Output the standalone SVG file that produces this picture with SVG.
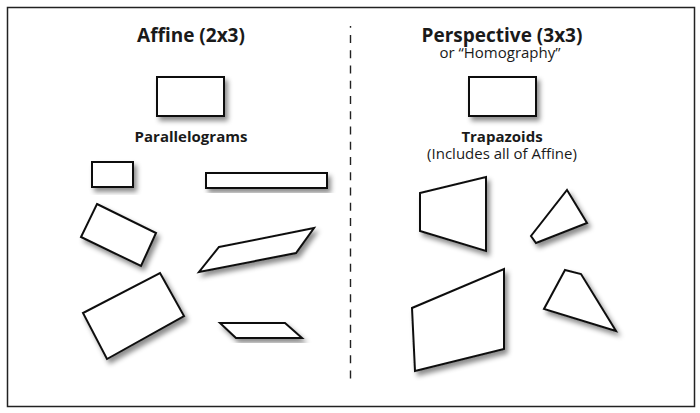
<svg xmlns="http://www.w3.org/2000/svg" width="700" height="413" viewBox="0 0 700 413">
<defs>
<filter id="sh" x="-30%" y="-30%" width="160%" height="160%">
<feDropShadow dx="3" dy="4" stdDeviation="2.5" flood-color="#000" flood-opacity="0.45"/>
</filter>
</defs>
<style>
.s{fill:#fff;stroke:#111;stroke-width:2;stroke-linejoin:miter;filter:url(#sh)}
.t{font-family:"Open Sans","Liberation Sans",sans-serif;fill:#1a1a1a;text-anchor:middle}
.h{font-weight:700;font-size:19px}
.b{font-weight:700;font-size:15px}
.r{font-weight:400;font-size:15px}
</style>
<rect x="0" y="0" width="700" height="413" fill="#fff"/>
<rect x="7.5" y="7.5" width="687" height="399" fill="#fff" stroke="#222" stroke-width="1.5"/>
<g id="connectors">
<line x1="350.5" y1="26" x2="350.5" y2="379" stroke="#222" stroke-width="1.4" stroke-dasharray="8 7.25" stroke-dashoffset="6.25"/>
</g>
<g id="affine-title"><text class="t h" x="191" y="42">Affine (2x3)</text></g>
<g id="affine-rect"><rect class="s" x="157" y="77" width="67" height="39"/></g>
<g id="parallelograms-label"><text class="t b" x="191" y="142">Parallelograms</text></g>
<g id="a1"><rect class="s" x="92" y="162" width="41" height="25"/></g>
<g id="a2"><rect class="s" x="206" y="173" width="121" height="15"/></g>
<g id="a3"><polygon class="s" points="97,204 156,233 141,266 81,237"/></g>
<g id="a4"><polygon class="s" points="219,247 314,228 296,253 199,272"/></g>
<g id="a5"><polygon class="s" points="160,273 184,316 107,359 83,313"/></g>
<g id="a6"><polygon class="s" points="220,323 285,323 302,338 236,338"/></g>
<g id="persp-title"><text class="t h" x="502" y="42">Perspective (3x3)</text><text class="t r" x="500" y="58">or “Homography”</text></g>
<g id="persp-rect"><rect class="s" x="469" y="77" width="67" height="39"/></g>
<g id="trapazoids-label"><text class="t b" x="502" y="142">Trapazoids</text><text class="t r" x="502" y="159">(Includes all of Affine)</text></g>
<g id="p1"><polygon class="s" points="420,193 486,177 486,251 420,231"/></g>
<g id="p2"><polygon class="s" points="567,190 587,223 536,243 531,236"/></g>
<g id="p3"><polygon class="s" points="504,269 504,349 415,371 412,308"/></g>
<g id="p4"><polygon class="s" points="565,270 581,274 616,331 544,309"/></g>
</svg>
